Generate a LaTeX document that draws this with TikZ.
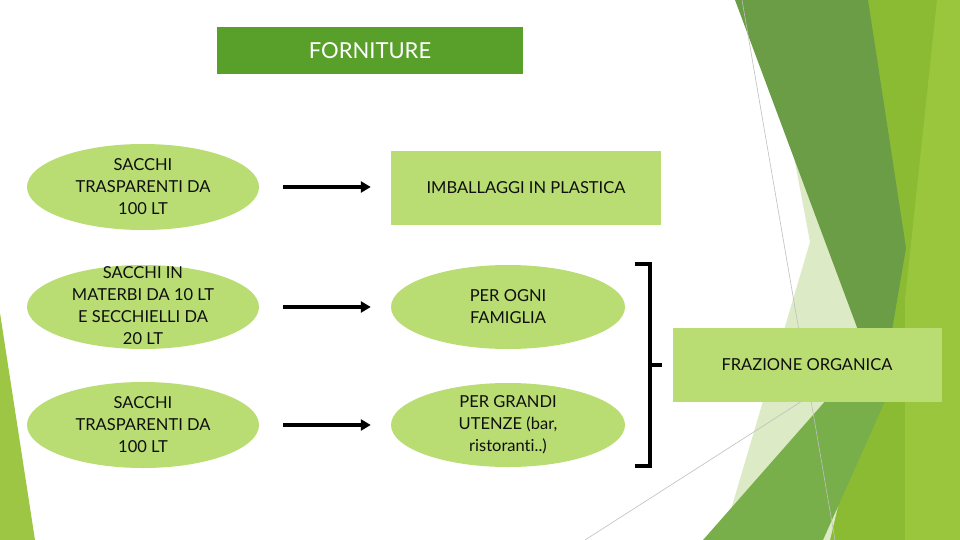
\documentclass[tikz,border=0pt]{standalone}
\usepackage{fontspec}
\setmainfont{Lato}[Ligatures={NoCommon,NoRequired,NoContextual}]
\usetikzlibrary{shapes.geometric,arrows.meta}
\definecolor{lgreen}{RGB}{185,220,115}
\definecolor{hgreen}{RGB}{88,160,42}
\definecolor{dkband}{RGB}{107,156,70}
\definecolor{midband}{RGB}{120,175,74}
\definecolor{yband}{RGB}{139,187,51}
\definecolor{brband}{RGB}{154,198,61}
\definecolor{pale}{RGB}{220,234,197}
\definecolor{leftgr}{RGB}{157,198,69}
\definecolor{txt}{RGB}{15,15,15}
\tikzset{
  ell/.style={ellipse, fill=lgreen, draw=none, minimum width=232pt, minimum height=86pt, inner sep=0pt},
  ellr/.style={ellipse, fill=lgreen, draw=none, minimum width=234pt, minimum height=84pt, inner sep=0pt},
  rbox/.style={rectangle, fill=lgreen, draw=none, inner sep=0pt},
  lbl/.style={align=center, text=txt, font=\fontsize{16.5}{22}\selectfont, inner sep=0pt},
  arr/.style={line width=3.8pt, -{Triangle[length=10pt,width=11pt]}},
  brk/.style={line width=3.8pt},
  thin/.style={draw=black!25, line width=0.6pt}
}
\begin{document}
\begin{tikzpicture}[x=1pt,y=-1pt]
\useasboundingbox (0,0) rectangle (960,540);
\fill[white] (0,0) rectangle (960,540);
% background facets
\fill[yband] (860,0) -- (960,0) -- (960,540) -- (810,540) -- cycle;
\fill[brband] (937,0) -- (960,0) -- (960,540) -- (905,540) -- (905,300) -- cycle;
\fill[pale] (789,130) -- (810,242) -- (722,540) -- (830,540) -- (880,330) -- cycle;
\fill[dkband] (735,0) -- (868,0) -- (906,248) -- (892,330) -- (858,330) -- cycle;
\fill[midband] (703,540) -- (835,390) -- (890,390) -- (823,540) -- cycle;
\fill[leftgr] (0,313) -- (35,540) -- (0,540) -- cycle;
\draw[thin] (742,0) -- (835,540);
\draw[thin] (585,540) -- (799,403) -- (880,350);
% header
\node[rectangle, fill=hgreen, minimum width=306pt, minimum height=47pt, inner sep=0pt,
      text=white, font=\fontsize{22}{24}\selectfont] (head) at (370,50.5) {FORNITURE};
% left ellipses
\node[ell] (e1) at (143,187) {};
\node[lbl] (t1) at (e1) {SACCHI\\TRASPARENTI DA\\100 LT};
\node[ell, minimum height=84pt] (e2) at (143,307) {};
\node[lbl] (t2) at ([yshift=1pt]e2) {SACCHI IN\\MATERBI DA 10 LT\\E SECCHIELLI DA\\20 LT};
\node[ell] (e3) at (143,425) {};
\node[lbl] (t3) at (e3) {SACCHI\\TRASPARENTI DA\\100 LT};
% right column
\node[rbox, minimum width=270pt, minimum height=74pt] (r1) at (526,188) {};
\node[lbl] (t4) at (r1) {IMBALLAGGI IN PLASTICA};
\node[ellr] (e5) at (508,307) {};
\node[lbl] (t5) at (e5) {PER OGNI\\FAMIGLIA};
\node[ellr] (e6) at (508,425) {};
\node[lbl] (t6) at (e6) {PER GRANDI\\UTENZE (bar,\\ristoranti..)};
% result box
\node[rbox, minimum width=269pt, minimum height=74pt] (fr) at (807,365) {};
\node[lbl] (t7) at (fr) {FRAZIONE ORGANICA};
% arrows
\draw[arr] ([xshift=24pt]e1.east) -- ([xshift=-20pt]r1.west |- e1.east);
\draw[arr] ([xshift=24pt]e2.east) -- ([xshift=-20pt]e5.west);
\draw[arr] ([xshift=24pt]e3.east) -- ([xshift=-20pt]e6.west);
% bracket
\coordinate (bt) at (635,264);
\coordinate (bb) at (635,466);
\coordinate (bm) at (650,365);
\draw[brk] (bt) -- (650,264) -- (650,466) -- (bb);
\draw[brk] (bm) -- ([xshift=-10pt]fr.west);
\end{tikzpicture}
\end{document}
